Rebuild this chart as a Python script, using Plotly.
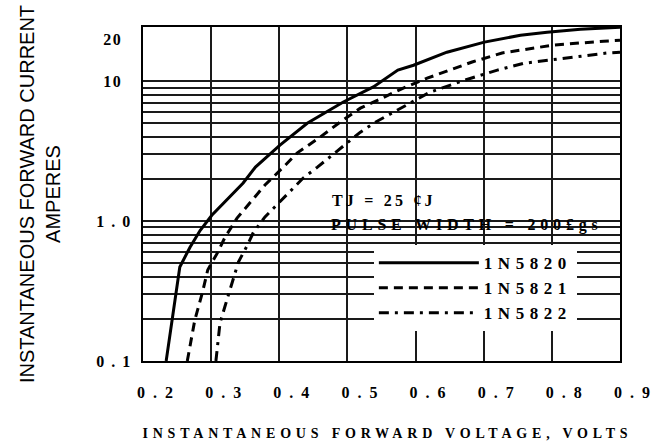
import plotly.graph_objects as go

# forward voltage (V) / forward current (A)
v_5820 = [0.234, 0.254, 0.269, 0.284, 0.301, 0.323, 0.347, 0.365, 0.401, 0.441,
          0.494, 0.538, 0.574, 0.597, 0.646, 0.701, 0.754, 0.793, 0.842, 0.9]
i_5820 = [0.1, 0.47, 0.65, 0.86, 1.10, 1.41, 1.87, 2.43, 3.49, 5.0,
          7.1, 9.1, 12.0, 13.0, 16.1, 19.0, 21.3, 22.4, 23.5, 24.3]

v_5821 = [0.265, 0.276, 0.287, 0.295, 0.309, 0.320, 0.338, 0.357, 0.379, 0.406, 0.426,
          0.460, 0.489, 0.519, 0.551, 0.582, 0.617, 0.683, 0.727, 0.802, 0.876, 0.9]
i_5821 = [0.1, 0.196, 0.306, 0.447, 0.59, 0.76, 1.05, 1.35, 1.81, 2.43, 3.06,
          3.98, 5.09, 6.41, 7.56, 8.91, 10.5, 13.7, 15.9, 18.1, 19.3, 19.6]

v_5822 = [0.307, 0.313, 0.320, 0.328, 0.340, 0.353, 0.362, 0.379, 0.401, 0.435, 0.456,
          0.478, 0.519, 0.541, 0.573, 0.595, 0.621, 0.673, 0.720, 0.758, 0.823, 0.881, 0.9]
i_5822 = [0.1, 0.187, 0.243, 0.332, 0.51, 0.67, 0.83, 1.07, 1.37, 2.03, 2.43,
          2.96, 4.32, 5.09, 6.21, 7.08, 8.34, 10.2, 12.0, 13.4, 14.6, 15.9, 16.1]

x_ticks = [0.2, 0.3, 0.4, 0.5, 0.6, 0.7, 0.8, 0.9]
x_labels = ["0 . 2", "0 . 3", "0 . 4", "0 . 5", "0 . 6", "0 . 7", "0 . 8", "0 . 9"]
y_ticks = [0.1, 1, 10, 20]
y_labels = ["0 . 1", "1 . 0", "10\u2002", "20\u2002"]
y_grid = [0.2, 0.3, 0.4, 0.5, 0.6, 0.7, 0.8, 0.9, 1, 2, 3, 4, 5, 6, 7, 8, 9, 10]

SERIF = "Liberation Serif"
GRID = "#1a1a1a"


def spaced(text, px):
    return f'<span style="letter-spacing:{px}px">{text}</span>'


fig = go.Figure()
fig.add_trace(go.Scatter(x=v_5820, y=i_5820, mode="lines", name=spaced("1N5820", 5.5),
                         line={"color": "black", "width": 3}))
fig.add_trace(go.Scatter(x=v_5821, y=i_5821, mode="lines", name=spaced("1N5821", 5.5),
                         line={"color": "black", "width": 3, "dash": "9px,6px"}))
fig.add_trace(go.Scatter(x=v_5822, y=i_5822, mode="lines", name=spaced("1N5822", 5.5),
                         line={"color": "black", "width": 3, "dash": "10px,6px,3px,6px"}))

# blank patch behind the test-condition note
fig.add_shape(type="rect", xref="paper", yref="paper", layer="between",
              x0=0.33, x1=0.96, y0=0.42, y1=0.552,
              fillcolor="white", line={"width": 0})

fig.add_annotation(text=spaced("TJ = 25 ¢J", 3.2), xref="paper", yref="paper",
                   x=0.392, y=0.482, xanchor="left", yanchor="middle", showarrow=False,
                   font={"family": SERIF, "size": 16, "color": "black", "weight": "bold"})
fig.add_annotation(text=spaced("PULSE WIDTH = 200£gs", 4.8), xref="paper", yref="paper",
                   x=0.39, y=0.408, xanchor="left", yanchor="middle", showarrow=False,
                   font={"family": SERIF, "size": 16, "color": "black", "weight": "bold"})

fig.update_layout(
    width=654, height=447,
    margin={"l": 143, "r": 34, "t": 27, "b": 86},
    paper_bgcolor="white", plot_bgcolor="white",
    showlegend=True,
    legend={
        "x": 0.484, "y": 0.347, "xanchor": "left", "yanchor": "top",
        "bgcolor": "white", "borderwidth": 0, "itemwidth": 100,
        "font": {"family": SERIF, "size": 17, "color": "black", "weight": "bold"},
    },
    xaxis={
        "range": [0.2, 0.9], "tickmode": "array", "tickvals": x_ticks,
        "ticktext": [spaced(t, 2) for t in x_labels], "automargin": False,
        "showgrid": True, "gridcolor": GRID, "gridwidth": 1.5, "zeroline": False,
        "showline": True, "mirror": True, "linecolor": "black", "linewidth": 2,
        "ticks": "", "ticklabelshift": 13, "ticklabelstandoff": 16,
        "tickfont": {"family": SERIF, "size": 16, "color": "black", "weight": "bold"},
        "title": {"text": spaced("\u2002INSTANTANEOUS FORWARD VOLTAGE, VOLTS", 4.8), "standoff": 28,
                  "font": {"family": SERIF, "size": 14, "color": "black", "weight": "bold"}},
    },
    yaxis={
        "type": "log", "range": [-1, 1.387], "tickmode": "array", "tickvals": y_ticks,
        "ticktext": [spaced(t, 1.5) for t in y_labels], "automargin": False,
        "showgrid": False, "zeroline": False,
        "showline": True, "mirror": True, "linecolor": "black", "linewidth": 2,
        "ticks": "", "ticklabelstandoff": 6,
        "minor": {"tickmode": "array", "tickvals": y_grid, "showgrid": True,
                  "gridcolor": GRID, "gridwidth": 1.5, "ticks": ""},
        "tickfont": {"family": SERIF, "size": 16, "color": "black", "weight": "bold"},
        "title": {"text": "INSTANTANEOUS FORWARD CURRENT<br>AMPERES", "standoff": 30,
                  "font": {"family": "Liberation Sans", "size": 20, "color": "black"}},
    },
)

fig.write_html("out.html", config={"displayModeBar": False},
               post_script="document.body.style.margin = '0';")
